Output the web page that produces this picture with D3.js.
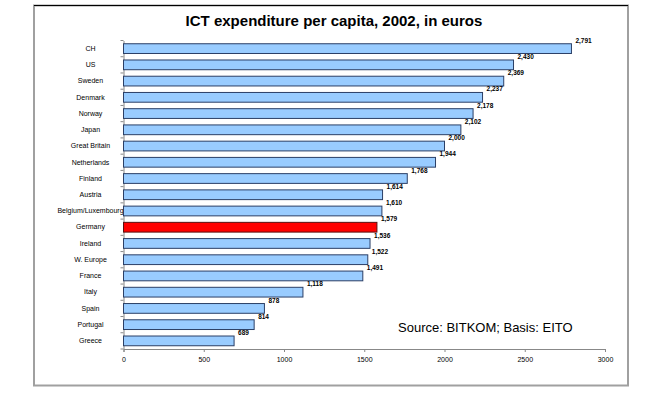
<!DOCTYPE html>
<html>
<head>
<meta charset="utf-8">
<script src="https://cdn.jsdelivr.net/npm/d3@7"></script>
<style>
  body { margin: 0; background: #fff; }
  svg text { font-family: Arial, "Liberation Sans", sans-serif; }
</style>
</head>
<body>
<svg id="chart" width="670" height="399"></svg>
<script>
// data
const countries = ["CH", "US", "Sweden", "Denmark", "Norway", "Japan", "Great Britain",
  "Netherlands", "Finland", "Austria", "Belgium/Luxembourg", "Germany", "Ireland",
  "W. Europe", "France", "Italy", "Spain", "Portugal", "Greece"];
const spending = [2791, 2430, 2369, 2237, 2178, 2102, 2000, 1944, 1768, 1614, 1610,
  1579, 1536, 1522, 1491, 1118, 878, 814, 689];
const xTicks = [0, 500, 1000, 1500, 2000, 2500, 3000];
const highlight = "Germany";

const svg = d3.select("#chart");

// frame with grey shadow edges
svg.append("rect")
  .attr("x", 34).attr("y", 5.5)
  .attr("width", 594).attr("height", 380)
  .attr("fill", "none")
  .attr("stroke", "#a0a0a0")
  .attr("stroke-width", 2);
svg.append("line")
  .attr("x1", 34).attr("x2", 628)
  .attr("y1", 5.5).attr("y2", 5.5)
  .attr("stroke", "#000");

svg.append("text")
  .attr("x", 334).attr("y", 26)
  .attr("text-anchor", "middle")
  .attr("font-size", "15px")
  .attr("font-weight", "bold")
  .text("ICT expenditure per capita, 2002, in euros");

const x = d3.scaleLinear().domain([0, 3000]).range([123.5, 605]);
const y = d3.scaleBand().domain(countries).range([40.5, 349])
  .paddingInner(0.4).paddingOuter(0.2);

// x axis
const xAxis = svg.append("g")
  .attr("transform", "translate(0,349)")
  .call(d3.axisBottom(x).tickValues(xTicks).tickFormat(d3.format("d"))
    .tickSize(3).tickPadding(5));
xAxis.select(".domain").attr("stroke", "#888");
xAxis.selectAll(".tick line").attr("stroke", "#888");
xAxis.selectAll("text").attr("font-size", "7px").attr("font-family", "Arial, 'Liberation Sans', sans-serif");

// y axis, ticks sit between the categories
const yAxis = svg.append("g")
  .attr("transform", "translate(123.5,0)")
  .call(d3.axisLeft(y).tickSize(0).tickSizeOuter(0));
yAxis.select(".domain").attr("stroke", "#888");
yAxis.selectAll("text")
  .attr("x", -33)
  .attr("text-anchor", "middle")
  .attr("font-size", "7px")
  .attr("font-family", "Arial, 'Liberation Sans', sans-serif");

const step = y.step();
const bounds = d3.range(countries.length + 1).map(i => y.range()[0] + i * step);
yAxis.selectAll(".sep")
  .data(bounds)
  .join("line")
  .attr("class", "sep")
  .attr("x1", -3).attr("x2", 0)
  .attr("y1", d => d).attr("y2", d => d)
  .attr("stroke", "#888");

const data = countries.map((c, i) => ({ c: c, v: spending[i] }));

svg.append("g")
  .selectAll("rect")
  .data(data)
  .join("rect")
  .attr("x", x(0))
  .attr("y", d => y(d.c))
  .attr("width", d => x(d.v) - x(0))
  .attr("height", y.bandwidth())
  .attr("fill", d => d.c === highlight ? "#ff0000" : "#99ccff")
  .attr("stroke", d => d.c === highlight ? "#5a1010" : "#2b3f66")
  .attr("stroke-width", 1);

svg.append("g")
  .selectAll("text")
  .data(data)
  .join("text")
  .attr("x", d => x(d.v) + 4)
  .attr("y", d => y(d.c) - 1)
  .attr("font-size", "6.5px")
  .attr("font-weight", "bold")
  .text(d => d3.format(",")(d.v));

svg.append("text")
  .attr("x", 398).attr("y", 332)
  .attr("font-size", "13px")
  .text("Source: BITKOM; Basis: EITO");
</script>
</body>
</html>
